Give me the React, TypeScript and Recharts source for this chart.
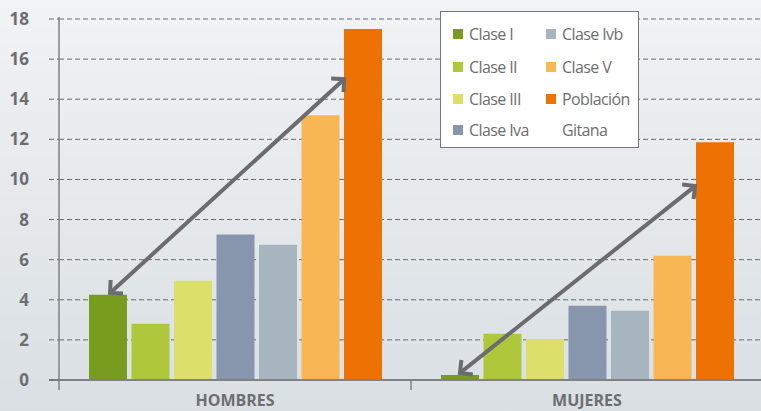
import { BarChart, Bar, XAxis, YAxis, CartesianGrid, ReferenceLine, Legend } from 'recharts';

const categories = ['HOMBRES', 'MUJERES'];
const claseI = [4.25, 0.25];
const claseII = [2.8, 2.3];
const claseIII = [4.95, 2.05];
const claseIva = [7.25, 3.7];
const claseIvb = [6.75, 3.45];
const claseV = [13.2, 6.2];
const poblacionGitana = [17.5, 11.85];
const yTicks = [0, 2, 4, 6, 8, 10, 12, 14, 16, 18];

// arrows: [x, y] pairs on a 0..2 category scale (each category spans 1)
const arrowHombres = [[0.145, 4.34], [0.81, 15.0]];
const arrowMujeres = [[1.139, 0.35], [1.807, 9.67]];

const series = [
  { key: 'claseI', name: 'Clase I', color: '#789c1e', values: claseI },
  { key: 'claseII', name: 'Clase II', color: '#afc73a', values: claseII },
  { key: 'claseIII', name: 'Clase III', color: '#dce06b', values: claseIII },
  { key: 'claseIva', name: 'Clase Iva', color: '#8796ad', values: claseIva },
  { key: 'claseIvb', name: 'Clase Ivb', color: '#a7b5be', values: claseIvb },
  { key: 'claseV', name: 'Clase V', color: '#f8b654', values: claseV },
  { key: 'gitana', name: 'Población Gitana', color: '#ee7203', values: poblacionGitana },
];

const data = categories.map((name, i) => {
  const row: any = { name, pos: i + 0.5 };
  series.forEach((s) => (row[s.key] = s.values[i]));
  return row;
});

const TEXT = '#6d6e71';
const ARROW = '#6b6b70';
const AXIS = '#808085';

function Arrow(props: any) {
  const { x1, y1, x2, y2 } = props;
  const a = Math.atan2(y2 - y1, x2 - x1);
  const L = 13;
  const head = (x: number, y: number, dir: number) => {
    const p1 = [x + L * Math.cos(dir + Math.PI / 4), y + L * Math.sin(dir + Math.PI / 4)];
    const p2 = [x + L * Math.cos(dir - Math.PI / 4), y + L * Math.sin(dir - Math.PI / 4)];
    return `M${p1[0]},${p1[1]} L${x},${y} L${p2[0]},${p2[1]}`;
  };
  return (
    <g stroke={ARROW} strokeWidth={4} fill="none" strokeLinejoin="miter">
      <line x1={x1} y1={y1} x2={x2} y2={y2} />
      <path d={head(x1, y1, a)} />
      <path d={head(x2, y2, a + Math.PI)} />
    </g>
  );
}

function LegendBox() {
  const colX = [12, 105];
  const rowY = [22, 55, 87, 118];
  const items: { text: string; color?: string; col: number; row: number }[] = [];
  series.forEach((s, i) => {
    const col = i < 4 ? 0 : 1;
    const row = i < 4 ? i : i - 4;
    const parts = s.name.split(' ');
    if (s.key === 'gitana') {
      items.push({ text: parts[0], color: s.color, col, row });
      items.push({ text: parts[1], col, row: row + 1 });
    } else {
      items.push({ text: s.name, color: s.color, col, row });
    }
  });
  return (
    <div
      style={{
        position: 'relative',
        width: 199,
        height: 137,
        background: '#fff',
        border: '1.5px solid #76767a',
        boxSizing: 'border-box',
      }}
    >
      {items.map((it, i) => (
        <div
          key={i}
          style={{
            position: 'absolute',
            left: colX[it.col],
            top: rowY[it.row] - 12,
            height: 24,
            display: 'flex',
            alignItems: 'center',
            whiteSpace: 'nowrap',
          }}
        >
          <span
            style={{
              display: 'inline-block',
              width: 10,
              height: 10,
              background: it.color || 'transparent',
              marginRight: 6,
            }}
          />
          <span
            style={{
              fontFamily: "'Open Sans', sans-serif",
              fontSize: 16,
              letterSpacing: -0.6,
              color: TEXT,
            }}
          >
            {it.text}
          </span>
        </div>
      ))}
    </div>
  );
}

export default function App() {
  return (
    <div
      style={{
        position: 'absolute',
        left: 0,
        top: 0,
        width: 761,
        height: 411,
        overflow: 'hidden',
        background: 'linear-gradient(to bottom, #f1f3f5, #d9dfe3)',
      }}
    >
      <BarChart
        width={763}
        height={411}
        data={data}
        margin={{ top: 19, right: 0, bottom: 0, left: 0 }}
        barSize={38}
        barGap={4.5}
      >
        <CartesianGrid vertical={false} stroke={ARROW} strokeDasharray="5 3" />
        <XAxis
          dataKey="name"
          axisLine={false}
          tickLine={false}
          height={31}
          tickMargin={9}
          tick={{ fill: TEXT, fontSize: 16, fontWeight: 700, fontFamily: 'Open Sans' }}
        />
        <XAxis xAxisId="n" dataKey="pos" type="number" domain={[0, 2]} allowDataOverflow hide />
        <YAxis
          domain={[0, 18]}
          ticks={yTicks}
          width={59}
          axisLine={false}
          tickSize={10}
          tickMargin={20}
          tickLine={{ stroke: ARROW, strokeDasharray: '5 3' }}
          tick={{ fill: TEXT, fontSize: 17, fontWeight: 700, fontFamily: 'Open Sans' }}
        />
        <Legend
          layout="vertical"
          align="center"
          verticalAlign="middle"
          wrapperStyle={{ position: 'absolute', left: 440, top: 11, width: 199, height: 137 }}
          content={() => <LegendBox />}
        />
        {series.map((s) => (
          <Bar key={s.key} dataKey={s.key} name={s.name} fill={s.color} isAnimationActive={false} />
        ))}
        <ReferenceLine
          xAxisId="n"
          ifOverflow="visible"
          segment={[{ x: -0.0284, y: 0 }, { x: 2, y: 0 }]}
          stroke={AXIS}
          strokeWidth={2}
        />
        <ReferenceLine
          xAxisId="n"
          ifOverflow="visible"
          segment={[{ x: 0, y: -0.5 }, { x: 0, y: 18.1 }]}
          stroke={AXIS}
          strokeWidth={1.5}
        />
        <ReferenceLine
          xAxisId="n"
          ifOverflow="visible"
          segment={[{ x: 1, y: -0.5 }, { x: 1, y: 0 }]}
          stroke={AXIS}
          strokeWidth={1.5}
        />
        <ReferenceLine
          xAxisId="n"
          ifOverflow="visible"
          segment={arrowHombres.map(([x, y]) => ({ x, y }))}
          shape={(p: any) => <Arrow {...p} />}
        />
        <ReferenceLine
          xAxisId="n"
          ifOverflow="visible"
          segment={arrowMujeres.map(([x, y]) => ({ x, y }))}
          shape={(p: any) => <Arrow {...p} />}
        />
      </BarChart>
    </div>
  );
}
